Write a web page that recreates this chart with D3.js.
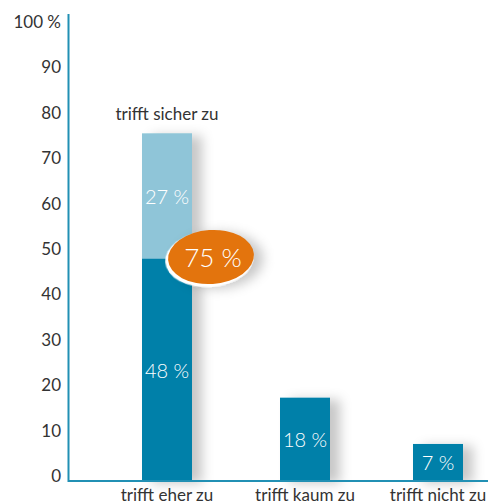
<!DOCTYPE html>
<html><head><meta charset="utf-8">
<script src="https://cdn.jsdelivr.net/npm/d3@7/dist/d3.min.js"></script>
<style>body{margin:0;background:#fff}svg{display:block}</style>
</head><body>
<script>
const categories = ["trifft eher zu", "trifft kaum zu", "trifft nicht zu"];
const baseValues = [48, 18, 8];
const baseLabels = ["48 %", "18 %", "7 %"];
const stackValues = [27, 0, 0];
const stackLabels = ["27 %", "", ""];
const stackLabel = "trifft sicher zu";
const totalLabel = "75 %";
const tickValues = [0, 10, 20, 30, 40, 50, 60, 70, 80, 90, 100];
const tickLabels = ["0", "10", "20", "30", "40", "50", "60", "70", "80", "90", "100 %"];

const W = 488, H = 504;
const svg = d3.select("body").append("svg").attr("width", W).attr("height", H);
const font = "Lato, 'Open Sans', sans-serif";
const dark = "#0080a9", light = "#8fc5d8", axisC = "#2190b4", orange = "#e3740d";

const defs = svg.append("defs");
const f = defs.append("filter").attr("id", "sh").attr("x", "-30%").attr("y", "-30%").attr("width", "200%").attr("height", "160%");
f.append("feDropShadow").attr("dx", 10).attr("dy", 2).attr("stdDeviation", 6).attr("flood-color", "#000").attr("flood-opacity", 0.22);

const y = d3.scaleLinear().domain([0, 100]).range([481, 18]);
const yLab = d3.scaleLinear().domain([0, 100]).range([476, 22]);
const x = d3.scaleOrdinal().domain(categories).range([167, 305, 438]);
const bw = 50;

// tick labels
svg.append("g").selectAll("text").data(tickValues).join("text")
  .attr("x", 61).attr("y", d => yLab(d)).attr("dy", "0.35em")
  .attr("text-anchor", "end").attr("font-family", font).attr("font-size", 17)
  .attr("fill", "#333").text((d, i) => tickLabels[i]);

// bars with shadow
const g = svg.append("g");
categories.forEach((c, i) => {
  const total = baseValues[i] + stackValues[i];
  g.append("rect").attr("x", x(c) - bw / 2).attr("width", bw)
    .attr("y", y(total)).attr("height", y(0) - y(total))
    .attr("fill", dark).attr("filter", "url(#sh)");
  if (stackValues[i] > 0) {
    g.append("rect").attr("x", x(c) - bw / 2).attr("width", bw)
      .attr("y", y(total)).attr("height", y(baseValues[i]) - y(total))
      .attr("fill", light);
    svg.append("text").attr("x", x(c)).attr("y", (y(total) + y(baseValues[i])) / 2 + 1)
      .attr("dy", "0.35em").attr("text-anchor", "middle").attr("font-family", font)
      .attr("font-size", 20).attr("font-weight", 300).attr("fill", "#fff")
      .text(stackLabels[i]);
    svg.append("text").attr("x", x(c)).attr("y", y(total) - 14)
      .attr("text-anchor", "middle").attr("font-family", font)
      .attr("font-size", 17).attr("fill", "#333").text(stackLabel);
  }
});

// base labels
categories.forEach((c, i) => {
  const v = baseValues[i];
  svg.append("text").attr("x", x(c)).attr("y", (y(v) + y(0)) / 2 + 1)
    .attr("dy", "0.35em").attr("text-anchor", "middle").attr("font-family", font)
    .attr("font-size", 20).attr("font-weight", 300).attr("fill", "#fff")
    .text(baseLabels[i]);
});

// axes
svg.append("line").attr("x1", 68.5).attr("x2", 68.5).attr("y1", 14).attr("y2", 482)
  .attr("stroke", axisC).attr("stroke-width", 2);
svg.append("line").attr("x1", 68).attr("x2", 488).attr("y1", 481).attr("y2", 481)
  .attr("stroke", axisC).attr("stroke-width", 2);

// category labels
svg.append("g").selectAll("text").data(categories).join("text")
  .attr("x", d => x(d)).attr("y", 501).attr("text-anchor", "middle")
  .attr("font-family", font).attr("font-size", 17).attr("fill", "#333").text(d => d);

// total ellipse
const ex = 211, ey = 257;
const eg = svg.append("g").attr("transform", `translate(${ex},${ey}) rotate(-4)`);
eg.append("ellipse").attr("cx", -2).attr("cy", 2).attr("rx", 44).attr("ry", 28)
  .attr("fill", "#fff").attr("filter", "url(#sh)");
eg.append("ellipse").attr("cx", 0).attr("cy", 0).attr("rx", 43).attr("ry", 27)
  .attr("fill", orange);
svg.append("text").attr("x", ex + 2).attr("y", ey + 1).attr("dy", "0.35em")
  .attr("text-anchor", "middle").attr("font-family", font).attr("font-size", 26)
  .attr("font-weight", 300).attr("fill", "#fff").text(totalLabel);
</script>
</body></html>
